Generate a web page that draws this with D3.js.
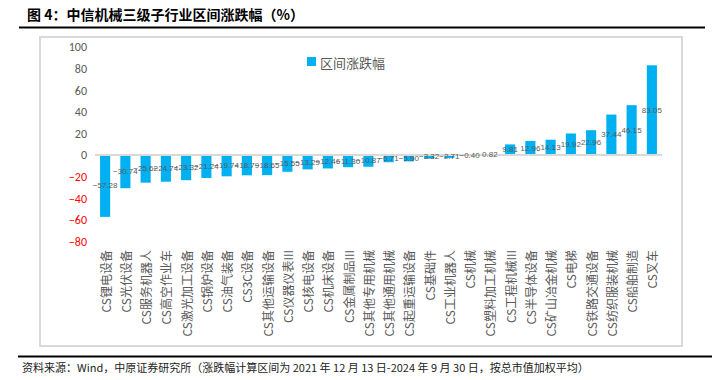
<!DOCTYPE html>
<html>
<head>
<meta charset="utf-8">
<script src="https://cdn.jsdelivr.net/npm/d3@7"></script>
<style>
  body { margin: 0; background: #fff; }
  svg { font-family: "Noto Sans CJK SC", "Noto Sans", sans-serif; }
</style>
</head>
<body>
<svg width="719" height="380"></svg>
<script>
const categories = ['CS锂电设备','CS光伏设备','CS服务机器人','CS高空作业车','CS激光加工设备','CS锅炉设备','CS油气装备','CS3C设备','CS其他运输设备','CS仪器仪表III','CS核电设备','CS机床设备','CS金属制品III','CS其他专用机械','CS其他通用机械','CS起重运输设备','CS基础件','CS工业机器人','CS机械','CS塑料加工机械','CS工程机械III','CS半导体设备','CS矿山冶金机械','CS电梯','CS铁路交通设备','CS纺织服装机械','CS船舶制造','CS叉车'];
const values = [-57.28,-30.74,-25.62,-24.74,-23.32,-21.24,-19.74,-18.79,-18.65,-15.55,-13.29,-12.46,-11.30,-10.87,-6.71,-5.90,-3.32,-2.71,-0.40,0.82,9.81,12.96,14.13,19.92,22.96,37.44,46.15,83.05];
const yTicks = [100,80,60,40,20,0,-20,-40,-60,-80];
const seriesName = '区间涨跌幅';
const title = '图 4：中信机械三级子行业区间涨跌幅（%）';
const source = '资料来源：Wind，中原证券研究所（涨跌幅计算区间为 2021 年 12 月 13 日-2024 年 9 月 30 日，按总市值加权平均）';

const svg = d3.select('svg');
const data = categories.map((c,i) => ({c, v: values[i]}));

// title + rules
svg.append('text').text(title)
  .attr('x', 27).attr('y', 20)
  .style('font-size', '14px').style('font-weight', 'bold').style('fill', '#000');
svg.append('line').attr('x1', 19).attr('x2', 705).attr('y1', 27.5).attr('y2', 27.5)
  .attr('stroke', '#000').attr('stroke-width', 2);
svg.append('line').attr('x1', 18).attr('x2', 712).attr('y1', 356.5).attr('y2', 356.5)
  .attr('stroke', '#000').attr('stroke-width', 2);
svg.append('text').text(source)
  .attr('x', 22).attr('y', 372)
  .style('font-size', '11px').style('fill', '#222');

// chart frame
svg.append('rect').attr('x', 40).attr('y', 37).attr('width', 642).attr('height', 309)
  .attr('fill', 'none').attr('stroke', '#d9d9d9').attr('stroke-width', 2);

const x = d3.scaleBand().domain(categories).range([95, 662]).paddingInner(0.5).paddingOuter(0.25);
const y = d3.scaleLinear().domain([-80, 100]).range([241.4, 47]);

// y axis
const yAxis = svg.append('g').attr('transform', 'translate(87,0)')
  .call(d3.axisLeft(y).tickValues(yTicks).tickSize(0).tickPadding(0));
yAxis.select('.domain').remove();
yAxis.selectAll('text')
  .style('font-size', '12px').style('font-family', 'Calibri, Carlito, "Liberation Sans", sans-serif')
  .style('fill', d => d < 0 ? '#ff0000' : '#595959');

// bars
svg.selectAll('rect.bar')
  .data(data)
  .join('rect')
  .attr('class', 'bar')
  .attr('x', d => x(d.c))
  .attr('width', x.bandwidth())
  .attr('y', d => y(Math.max(0, d.v)))
  .attr('height', d => Math.abs(y(d.v) - y(0)))
  .attr('fill', '#00b0f0');

// zero line
svg.append('line').attr('x1', 95).attr('x2', 662).attr('y1', y(0)).attr('y2', y(0))
  .attr('stroke', '#d9d9d9').attr('stroke-width', 2);

// value labels centred in bars
svg.selectAll('text.val')
  .data(data)
  .join('text')
  .attr('class', 'val')
  .attr('x', d => x(d.c) + x.bandwidth() / 2)
  .attr('y', d => (y(d.v) + y(0)) / 2)
  .attr('text-anchor', 'middle')
  .attr('dominant-baseline', 'central')
  .style('font-size', '8px')
  .style('font-family', '"Liberation Sans", sans-serif')
  .style('fill', '#595959')
  .text(d => d3.format('.2f')(d.v));

// category labels, rotated
svg.selectAll('text.cat')
  .data(categories)
  .join('text')
  .attr('class', 'cat')
  .attr('transform', d => `translate(${x(d) + x.bandwidth() / 2},250) rotate(-90)`)
  .attr('text-anchor', 'end')
  .attr('dominant-baseline', 'central')
  .style('font-size', '12px')
  .style('fill', '#595959')
  .text(d => d);

// legend
svg.append('rect').attr('x', 307).attr('y', 57).attr('width', 9).attr('height', 9).attr('fill', '#00b0f0');
svg.append('text').text(seriesName)
  .attr('x', 320).attr('y', 62)
  .attr('dominant-baseline', 'central')
  .style('font-size', '13px').style('fill', '#595959');
</script>
</body>
</html>
